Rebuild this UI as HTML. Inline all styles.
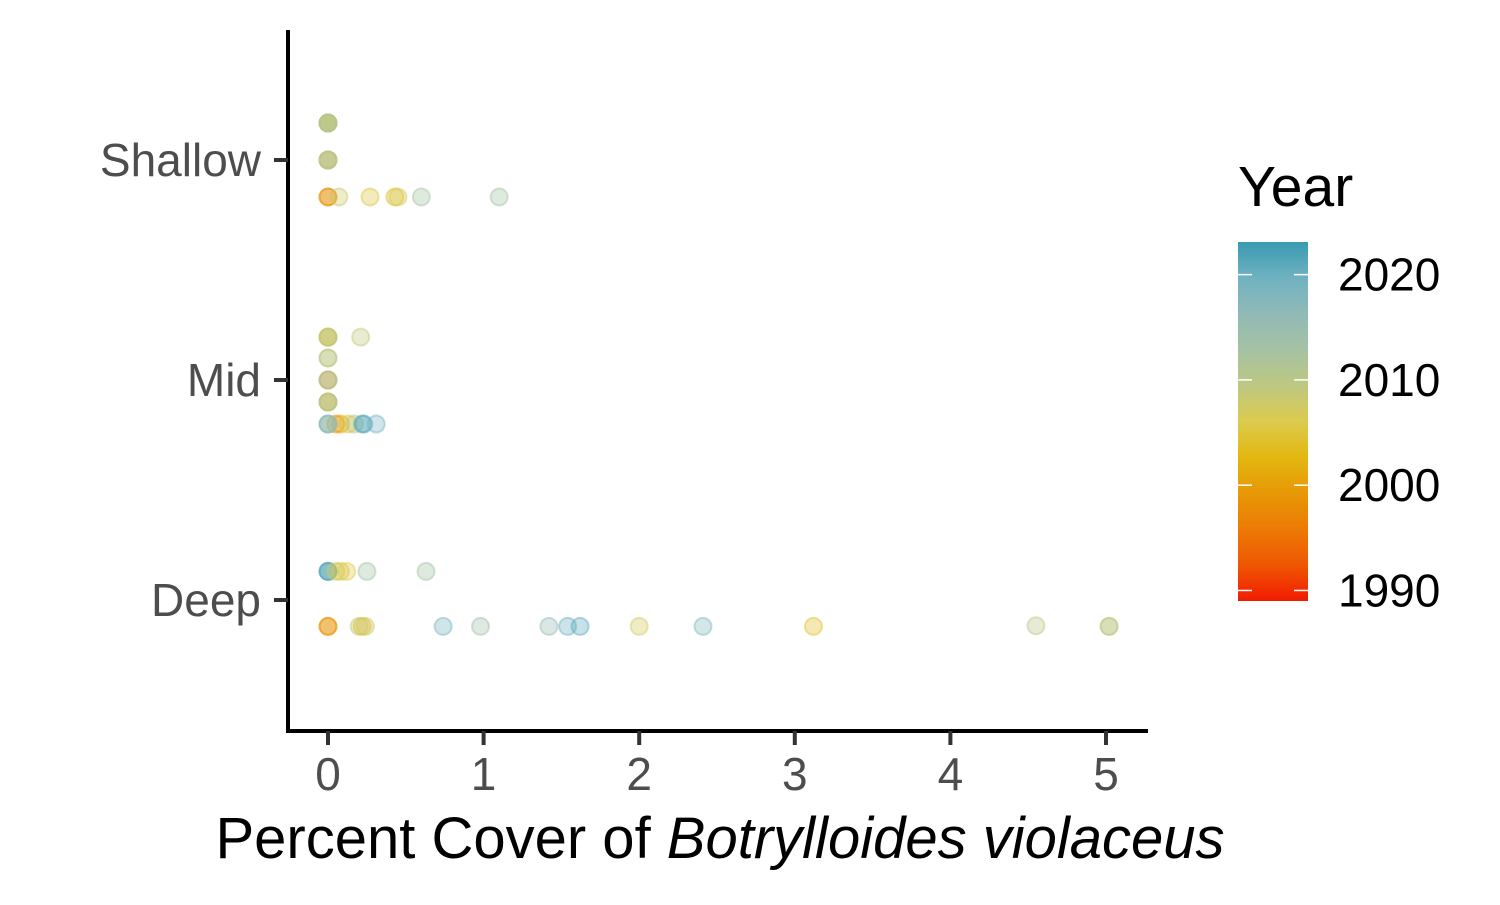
<!DOCTYPE html>
<html><head><meta charset="utf-8"><style>
body{margin:0;background:#fff}
svg text{font-family:"Liberation Sans",sans-serif}
</style></head><body>
<svg id="c" width="1500" height="900">
<defs><linearGradient id="g" x1="0" y1="1" x2="0" y2="0"></linearGradient></defs>
<g id="pts"></g>
<g id="axes"></g>
</svg>
<script>
const xVals=[0,0,0,0,0,0, 0,0,0,0, 0,0,0.07,0.27,0.43,0.45,0.6,1.1,
 0,0,0,0,0.21,0,0,0,0,0,0,0,0,0, 0.05,0.08,0.13,0.17,0,0,0,0.22,0.23,0.31,
 0,0,0,0.05,0.08,0.12,0.25,0.63,
 0,0,0.2,0.22,0.24,0.74,0.98,1.42,1.54,1.62,2.0,2.41,3.12,4.55,5.02,5.02];
const yVals=[3.168,3.168,3.168,3.168,3.168,3.168, 3,3,3,3, 2.832,2.832,2.832,2.832,2.832,2.832,2.832,2.832,
 2.195,2.195,2.195,2.195,2.195,2.1,2.1,2,2,2,1.9,1.9,1.9,1.9, 1.8,1.8,1.8,1.8,1.8,1.8,1.8,1.8,1.8,1.8,
 1.13,1.13,1.13,1.13,1.13,1.13,1.13,1.13,
 0.88,0.88,0.88,0.88,0.88,0.88,0.88,0.88,0.88,0.88,0.88,0.88,0.88,0.883,0.88,0.88];
const years=[2000,2005,2010,2012,2010,2011, 1998,2010,2012,2010, 1997,1999,2008,2005,2003,2007,2013,2013,
 2002,2006,2010,2009,2009,2008,2011,1996,2009,2012,2000,2008,2011,2010, 1998,2000,2005,2010,2012,2015,2017,2020,2022,2019,
 2020,2022,2021,2008,2005,2006,2013,2013,
 1998,1999,2010,2003,2008,2019,2014,2016,2020,2021,2007,2018,2004,2010,2009,2010];
const categories=["Deep","Mid","Shallow"];
const xTicks=[0,1,2,3,4,5];
const legendTicks=[1990,2000,2010,2020];
const pal=["#F11B00","#EF5703","#EC7A05","#E79805","#E3B710","#DCCB4E","#BDC881","#A5C2A3","#91BAB6","#6FB2C1","#3A9AB2"];
const yMin=1989,yMax=2023.1;
const X=v=>328+v*155.6, Y=v=>600-(v-1)*220;
function hex(h){return [1,3,5].map(i=>parseInt(h.substr(i,2),16));}
function col(y){let t=(y-yMin)/(yMax-yMin)*(pal.length-1);t=Math.max(0,Math.min(pal.length-1,t));const i=Math.min(Math.floor(t),pal.length-2),f=t-i;const a=hex(pal[i]),b=hex(pal[i+1]);return `rgb(${a.map((v,k)=>Math.round(v+(b[k]-v)*f)).join(',')})`;}
const NS="http://www.w3.org/2000/svg";
function mk(p,tag,at,txt){const e=document.createElementNS(NS,tag);for(const k in at)e.setAttribute(k,at[k]);if(txt!=null)e.textContent=txt;p.appendChild(e);return e;}
const pts=document.getElementById('pts');
xVals.forEach((x,i)=>{const c=col(years[i]);
 const e=mk(pts,'circle',{cx:X(x),cy:Y(yVals[i]),r:8.5,fill:c,'fill-opacity':0.35,stroke:c,'stroke-opacity':0.45,'stroke-width':2});
 
 });
const ax=document.getElementById('axes');
const yl=mk(ax,'line',{x1:288,y1:30,x2:288,y2:733,stroke:'#000','stroke-width':4});

const xl=mk(ax,'line',{x1:286,y1:731,x2:1148,y2:731,stroke:'#000','stroke-width':4});

categories.forEach((c,i)=>{const y=Y(i+1);
 mk(ax,'line',{x1:274,y1:y,x2:288,y2:y,stroke:'#333','stroke-width':4});
 const t=mk(ax,'text',{x:261,y:y+16,'text-anchor':'end','font-size':46,fill:'#4d4d4d'},c);
 });
xTicks.forEach(v=>{const x=X(v);
 mk(ax,'line',{x1:x,y1:731,x2:x,y2:745,stroke:'#333','stroke-width':4});
 const t=mk(ax,'text',{x:x,y:790,'text-anchor':'middle','font-size':46,fill:'#4d4d4d'},v);
 });
const tt=mk(ax,'text',{x:720,y:858,'text-anchor':'middle','font-size':58,fill:'#000'});

tt.innerHTML='Percent Cover of <tspan font-style="italic">Botrylloides violaceus</tspan>';
const g=document.getElementById('g');
pal.forEach((p,i)=>mk(g,'stop',{offset:i/(pal.length-1),'stop-color':p}));
const lt=mk(ax,'text',{x:1238,y:206,'font-size':57,fill:'#000'},'Year');

const bar=mk(ax,'rect',{x:1238,y:242,width:70,height:359,fill:'url(#g)'});

const LY=v=>601-(v-yMin)/(yMax-yMin)*359;
legendTicks.forEach(v=>{const y=LY(v);
 mk(ax,'line',{x1:1238,y1:y,x2:1252,y2:y,stroke:'#fff','stroke-width':1.5});
 mk(ax,'line',{x1:1294,y1:y,x2:1308,y2:y,stroke:'#fff','stroke-width':1.5});
 const t=mk(ax,'text',{x:1338,y:y+16,'font-size':46,fill:'#000'},v);
 });
</script>
</body></html>
